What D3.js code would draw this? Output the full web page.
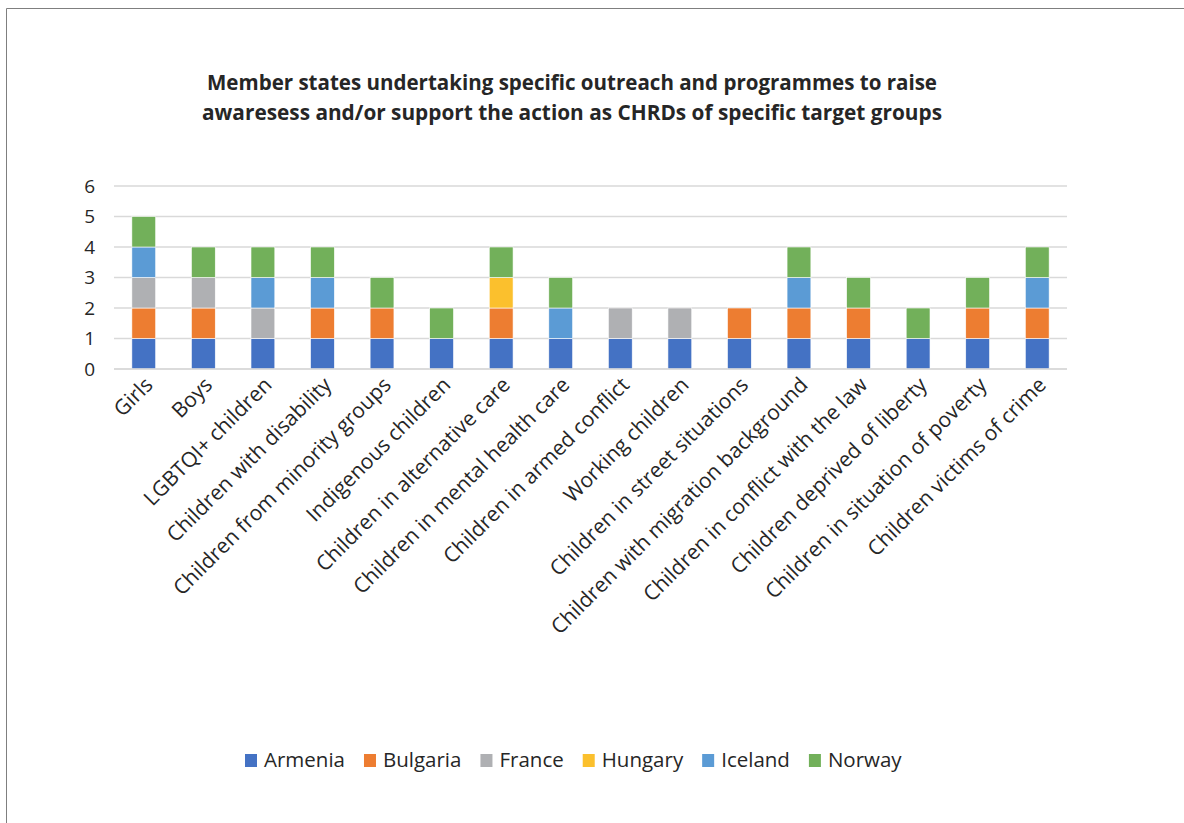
<!DOCTYPE html>
<html><head><meta charset="utf-8">
<script src="https://cdn.jsdelivr.net/npm/d3@7"></script>
<style>body{margin:0;background:#fff}svg{display:block}</style>
</head><body>
<svg id="c" width="1184" height="823"></svg>
<script>
const categories = ["Girls","Boys","LGBTQI+ children","Children with disability","Children from minority groups","Indigenous children","Children in alternative care","Children in mental health care","Children in armed conflict","Working children","Children in street situations","Children with migration background","Children in conflict with the law","Children deprived of liberty","Children in situation of poverty","Children victims of crime"];
const seriesNames = ["Armenia","Bulgaria","France","Hungary","Iceland","Norway"];
const armenia  = [1,1,1,1,1,1,1,1,1,1,1,1,1,1,1,1];
const bulgaria = [1,1,0,1,1,0,1,0,0,0,1,1,1,0,1,1];
const france   = [1,1,1,0,0,0,0,0,1,1,0,0,0,0,0,0];
const hungary  = [0,0,0,0,0,0,1,0,0,0,0,0,0,0,0,0];
const iceland  = [1,0,1,1,0,0,0,1,0,0,0,1,0,0,0,1];
const norway   = [1,1,1,1,1,1,1,1,0,0,0,1,1,1,1,1];
const yTicks = [0,1,2,3,4,5,6];
const colors = ["#4472C4","#ED7D31","#AFB0B3","#FBC02D","#5B9BD5","#72B05A"];
const titleLines = ["Member states undertaking specific outreach and programmes to raise","awaresess and/or support the action as CHRDs of specific target groups"];

const seriesVals = [armenia,bulgaria,france,hungary,iceland,norway];
const rows = categories.map((c,i)=>{const r={cat:c}; seriesNames.forEach((s,j)=>r[s]=seriesVals[j][i]); return r;});
const stack = d3.stack().keys(seriesNames)(rows);

const svg = d3.select("#c");
const FONT = "'Open Sans', sans-serif";
svg.append("path").attr("d","M6.5,823 L6.5,8.5 L1184,8.5").attr("fill","none").attr("stroke","#7f7f7f").attr("stroke-width",1);

const x = d3.scaleBand().domain(categories).range([114,1067]).paddingInner(0.6).paddingOuter(0.3);
const y = d3.scaleLinear().domain([0,6]).range([369,186]);

svg.append("g").selectAll("line").data(yTicks).join("line")
  .attr("x1",114).attr("x2",1067).attr("y1",d=>y(d)).attr("y2",d=>y(d))
  .attr("stroke","#d9d9d9").attr("stroke-width",1.5);
svg.append("g").selectAll("text").data(yTicks).join("text")
  .attr("x",95).attr("y",d=>y(d)).attr("dy","0.36em").attr("text-anchor","end")
  .attr("font-family",FONT).attr("font-size",19).attr("fill","#262626").text(d=>d);

svg.append("g").selectAll("g").data(stack).join("g").attr("fill",(d,i)=>colors[i])
  .selectAll("rect").data(d=>d.filter(s=>s[1]>s[0])).join("rect")
  .attr("x",d=>x(d.data.cat)).attr("width",x.bandwidth())
  .attr("y",d=>y(d[1])).attr("height",d=>y(d[0])-y(d[1]))
  .attr("stroke","#fff").attr("stroke-width",0.6);

svg.append("line").attr("x1",114).attr("x2",1067).attr("y1",y(0)).attr("y2",y(0)).attr("stroke","#d9d9d9").attr("stroke-width",1.5);

svg.append("g").selectAll("text").data(categories).join("text")
  .attr("transform",d=>`translate(${x(d)+x.bandwidth()/2+5},${381}) rotate(-45)`)
  .attr("text-anchor","end").attr("dy","0.35em")
  .attr("font-family",FONT).attr("font-size",21).attr("fill","#262626").text(d=>d);

const tw = [730,740];
svg.append("g").selectAll("text").data(titleLines).join("text")
  .attr("x",572).attr("y",(d,i)=>90+i*30).attr("text-anchor","middle")
  .attr("font-family","'Liberation Sans Narrow','Open Sans',sans-serif").attr("font-weight","bold")
  .attr("font-size",21).attr("fill","#262626")
  .attr("textLength",(d,i)=>tw[i]).attr("lengthAdjust","spacingAndGlyphs").text(d=>d);

const lg = svg.append("g");
let lx = 245;
seriesNames.forEach((s,i)=>{
  lg.append("rect").attr("x",lx).attr("y",754).attr("width",12).attr("height",13).attr("fill",colors[i]);
  const t = lg.append("text").attr("x",lx+19).attr("y",760).attr("dy","0.35em")
    .attr("font-family",FONT).attr("font-size",20.5).attr("fill","#262626").text(s);
  lx += 19 + t.node().getComputedTextLength() + 19;
});
</script>
</body></html>
